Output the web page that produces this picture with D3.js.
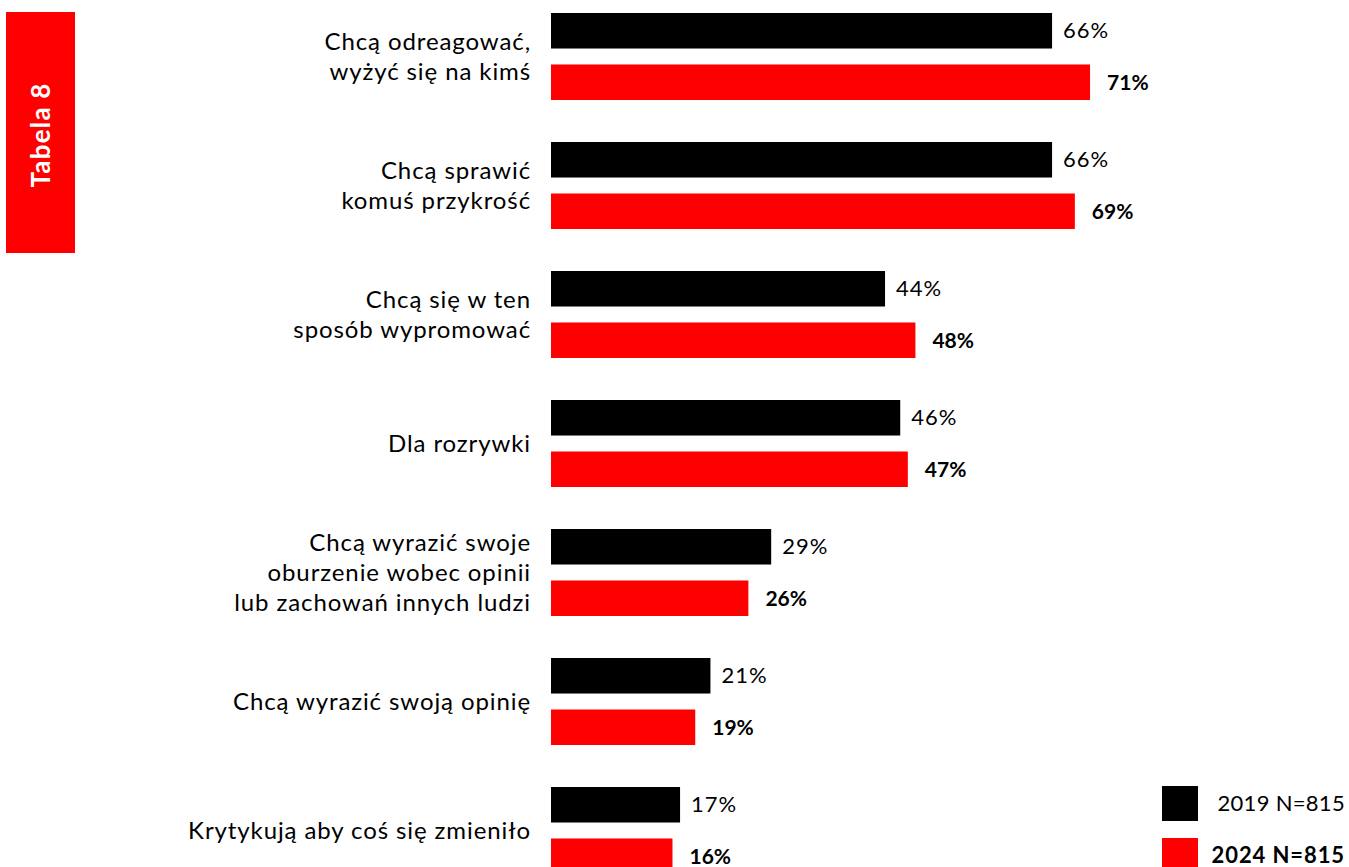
<!DOCTYPE html>
<html>
<head>
<meta charset="utf-8">
<script src="https://cdn.jsdelivr.net/npm/d3@7"></script>
<style>
  html, body { margin: 0; padding: 0; background: #fff; }
  svg { display: block; }
  text { font-family: Lato, "Open Sans", sans-serif; }
</style>
</head>
<body>
<svg id="chart" width="1349" height="867"></svg>
<script>
// Motives — each category label is split into display lines
const categories = [
  ["Chcą odreagować,", "wyżyć się na kimś"],
  ["Chcą sprawić", "komuś przykrość"],
  ["Chcą się w ten", "sposób wypromować"],
  ["Dla rozrywki"],
  ["Chcą wyrazić swoje", "oburzenie wobec opinii", "lub zachowań innych ludzi"],
  ["Chcą wyrazić swoją opinię"],
  ["Krytykują aby coś się zmieniło"]
];
const values2019 = [66, 66, 44, 46, 29, 21, 17];
const values2024 = [71, 69, 48, 47, 26, 19, 16];
const seriesKeys = ["2019", "2024"];
const legendLabels = ["2019 N=815", "2024 N=815"];
const seriesColors = ["#000000", "#ff0000"];
const tabTitle = "Tabela 8";

const svg = d3.select("#chart");
const keys = categories.map((c, i) => "c" + i);

const x = d3.scaleLinear().domain([0, 100]).range([551, 551 + 759.2]);
const y = d3.scaleBand().domain(keys).range([13, 874]).paddingInner(42 / 129).paddingOuter(0);
const ySub = d3.scaleBand().domain(seriesKeys).range([0, y.bandwidth()]).paddingInner(0.31);
const color = d3.scaleOrdinal().domain(seriesKeys).range(seriesColors);

// Side tab
svg.append("rect").attr("x", 6).attr("y", 12).attr("width", 69).attr("height", 241).attr("fill", "#ff0000");
svg.append("text")
  .attr("transform", "translate(50,135) rotate(-90)")
  .attr("text-anchor", "middle")
  .attr("fill", "#fff")
  .attr("font-weight", 700)
  .attr("font-size", 26)
  .attr("letter-spacing", 1.2)
  .text(tabTitle);

const rows = keys.map((k, i) => ({ key: k, lines: categories[i], vals: [values2019[i], values2024[i]] }));

const g = svg.selectAll("g.row").data(rows).join("g")
  .attr("class", "row")
  .attr("transform", d => `translate(0,${y(d.key)})`);

// Category labels
g.append("text")
  .attr("text-anchor", "end")
  .attr("font-size", 24)
  .attr("letter-spacing", 0.9)
  .attr("fill", "#000")
  .each(function (d) {
    const t = d3.select(this);
    const lh = 30;
    const mid = y.bandwidth() / 2;
    const start = mid - (d.lines.length - 1) * lh / 2;
    d.lines.forEach((ln, j) => {
      t.append("tspan").attr("x", 531).attr("y", start + j * lh).attr("dy", "0.35em").text(ln);
    });
  });

// Bars and value labels
g.selectAll("rect.bar")
  .data(d => d.vals.map((v, j) => ({ key: seriesKeys[j], v })))
  .join("rect")
  .attr("class", "bar")
  .attr("x", x(0))
  .attr("y", d => ySub(d.key))
  .attr("width", d => x(d.v) - x(0))
  .attr("height", ySub.bandwidth())
  .attr("fill", d => color(d.key));

g.selectAll("text.val")
  .data(d => d.vals.map((v, j) => ({ key: seriesKeys[j], v })))
  .join("text")
  .attr("class", "val")
  .attr("x", d => x(d.v) + (d.key === "2024" ? 17 : 11))
  .attr("y", d => ySub(d.key) + ySub.bandwidth() / 2)
  .attr("dy", "0.35em")
  .attr("font-size", d => d.key === "2024" ? 21 : 22)
  .attr("letter-spacing", d => d.key === "2024" ? 0 : 1)
  .attr("font-weight", d => d.key === "2024" ? 700 : 400)
  .attr("fill", "#000")
  .text(d => d.v + "%");

// Legend
const legY = [786, 838];
const leg = svg.selectAll("g.leg").data(seriesKeys).join("g").attr("class", "leg");
leg.append("rect")
  .attr("x", 1162).attr("y", (d, i) => legY[i])
  .attr("width", 36).attr("height", 35)
  .attr("fill", d => color(d));
leg.append("text")
  .attr("x", 1345).attr("y", (d, i) => legY[i] + 17)
  .attr("dy", "0.35em")
  .attr("text-anchor", "end")
  .attr("font-size", 22)
  .attr("letter-spacing", (d, i) => i === 1 ? 0.9 : 0.3)
  .attr("font-weight", (d, i) => i === 1 ? 700 : 400)
  .text((d, i) => legendLabels[i]);
</script>
</body>
</html>
